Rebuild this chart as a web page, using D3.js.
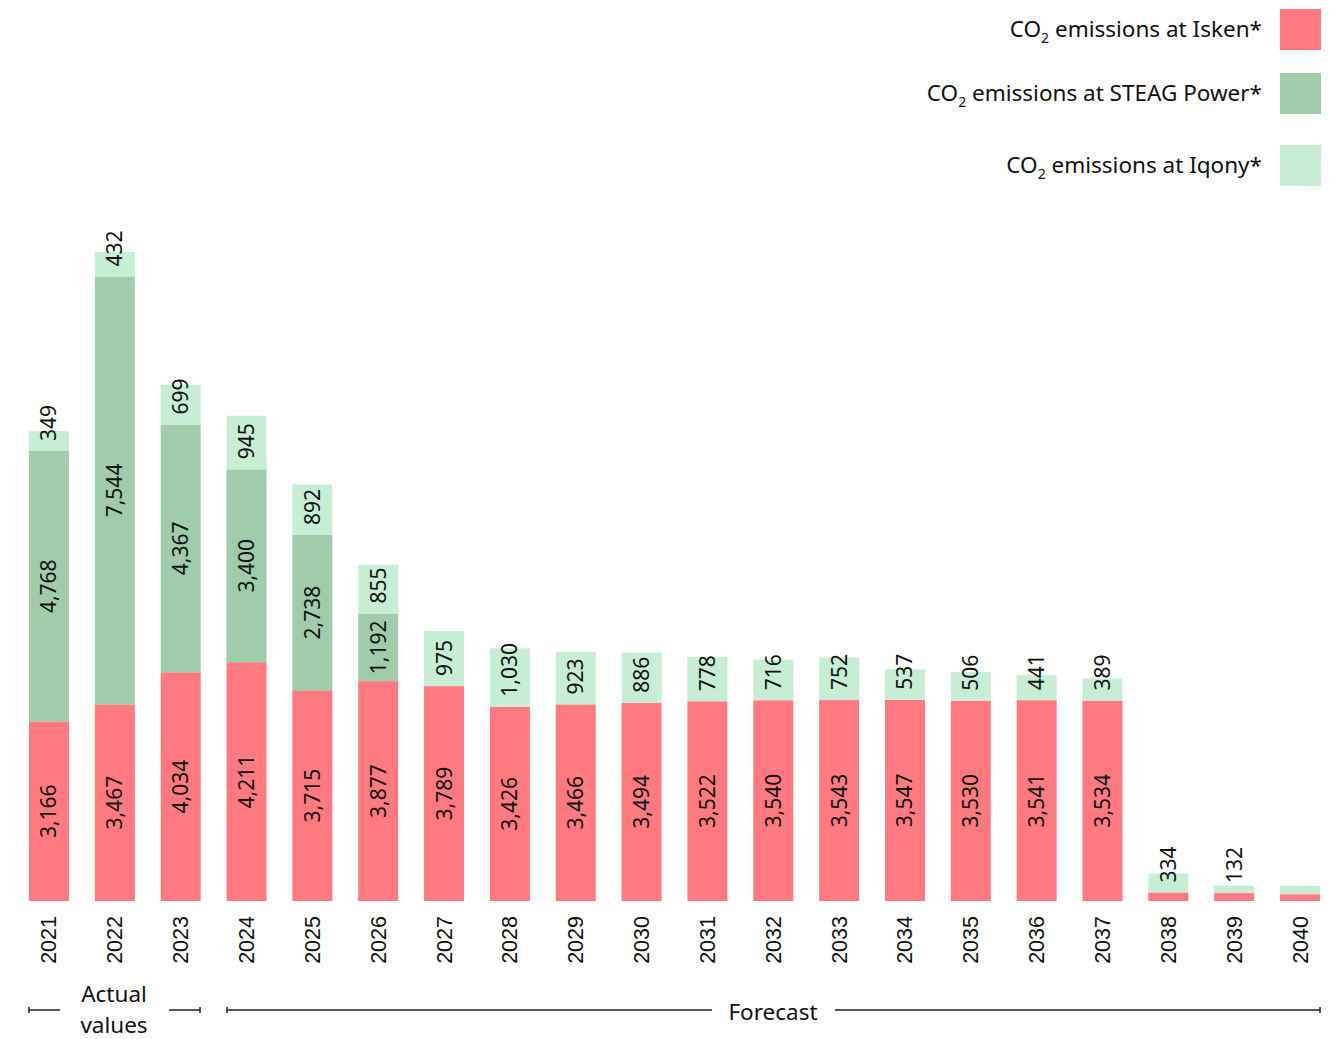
<!DOCTYPE html>
<html>
<head>
<meta charset="utf-8">
<script src="https://cdn.jsdelivr.net/npm/d3@7"></script>
<style>
  body { margin: 0; background: #fff; }
  svg { display: block; font-family: 'Noto Sans', sans-serif; }
</style>
</head>
<body>
<div id="chart"></div>
<script>
const years = ['2021', '2022', '2023', '2024', '2025', '2026', '2027', '2028', '2029', '2030',
  '2031', '2032', '2033', '2034', '2035', '2036', '2037', '2038', '2039', '2040'];
const isken = [3166, 3467, 4034, 4211, 3715, 3877, 3789, 3426, 3466, 3494,
  3522, 3540, 3543, 3547, 3530, 3541, 3534, 150, 140, 120];
const steag = [4768, 7544, 4367, 3400, 2738, 1192, 0, 0, 0, 0,
  0, 0, 0, 0, 0, 0, 0, 0, 0, 0];
const iqony = [349, 432, 699, 945, 892, 855, 975, 1030, 923, 886,
  778, 716, 752, 537, 506, 441, 389, 334, 132, 150];
const seriesNames = ['Isken', 'STEAG Power', 'Iqony'];
const seriesKeys = ['isken', 'steag', 'iqony'];
const colors = ['#ff7a80', '#a0ccab', '#c8edd5'];

const width = 1332;
const height = 1039;
const baseY = 901;
const fontSize = 21;

const rows = years.map((y, i) => ({ year: y, isken: isken[i], steag: steag[i], iqony: iqony[i] }));
const stacked = d3.stack().keys(seriesKeys)(rows);

const svg = d3.select('#chart').append('svg')
  .attr('width', width)
  .attr('height', height)
  .attr('viewBox', [0, 0, width, height]);

const x = d3.scaleBand()
  .domain(years)
  .range([29, 1320])
  .paddingInner(0.3925)
  .paddingOuter(0);

const maxTotal = d3.max(rows, d => d.isken + d.steag + d.iqony);
const y = d3.scaleLinear()
  .domain([0, maxTotal])
  .range([baseY, 252]);

// bars
const layers = svg.append('g')
  .selectAll('g')
  .data(stacked)
  .join('g')
  .attr('fill', (_, i) => colors[i]);

layers.selectAll('rect')
  .data(d => d)
  .join('rect')
  .attr('x', d => x(d.data.year))
  .attr('y', d => y(d[1]))
  .attr('width', x.bandwidth())
  .attr('height', d => Math.max(0, y(d[0]) - y(d[1])));

// value labels
const fmt = d3.format(',');
stacked.forEach((layer, li) => {
  const g = svg.append('g').attr('font-size', fontSize).attr('fill', '#111');
  layer.forEach(d => {
    const v = d[1] - d[0];
    if (v <= 0) return;
    const yr = d.data.year;
    if (li === 0 && v < 1000) return;
    if (li === 2 && yr === '2040') return;
    const cx = x(yr) + x.bandwidth() / 2;
    if (li === 2) {
      const by = y(d[0]) - 10;
      g.append('text')
        .attr('transform', `translate(${cx + 7.5},${by}) rotate(-90)`)
        .attr('text-anchor', 'start')
        .text(fmt(v));
    } else {
      const my = (y(d[0]) + y(d[1])) / 2;
      g.append('text')
        .attr('transform', `translate(${cx + 7.5},${my}) rotate(-90)`)
        .attr('text-anchor', 'middle')
        .text(fmt(v));
    }
  });
});

// x axis (years)
const axis = svg.append('g')
  .attr('transform', `translate(0,${baseY})`)
  .call(d3.axisBottom(x).tickSize(0).tickPadding(0));
axis.select('.domain').remove();
axis.selectAll('text')
  .attr('font-size', fontSize + 0.5)
  .attr('font-family', null)
  .attr('fill', '#111')
  .attr('text-anchor', 'end')
  .attr('dy', null)
  .attr('transform', 'translate(7.5,15) rotate(-90)');

// legend
const legend = svg.append('g');
const legendY = [29.5, 93.5, 165.5];
seriesNames.forEach((name, i) => {
  legend.append('rect')
    .attr('x', 1280)
    .attr('y', legendY[i] - 20.5)
    .attr('width', 41)
    .attr('height', 41)
    .attr('fill', colors[i]);
  const t = legend.append('text')
    .attr('x', 1262)
    .attr('y', legendY[i] + 7.5)
    .attr('text-anchor', 'end')
    .attr('font-size', 22.5)
    .attr('fill', '#111');
  t.append('tspan').text('CO');
  t.append('tspan').attr('font-size', 14).attr('dy', 6).text('2');
  t.append('tspan').attr('dy', -6).text(` emissions at ${name}*`);
});

// period annotations
const ann = svg.append('g').attr('stroke', '#222').attr('stroke-width', 1.5);
const lineY = 1010;
const segments = [[29, 60], [169, 200], [227, 712], [835, 1320]];
segments.forEach(([a, b]) => {
  ann.append('line').attr('x1', a).attr('x2', b).attr('y1', lineY).attr('y2', lineY);
});
[29, 200, 227, 1320].forEach(px => {
  ann.append('line').attr('x1', px).attr('x2', px).attr('y1', lineY - 3).attr('y2', lineY + 3);
});
const annText = svg.append('g').attr('font-size', 22.5).attr('fill', '#111').attr('text-anchor', 'middle');
annText.append('text').attr('x', 114).attr('y', 1002).text('Actual');
annText.append('text').attr('x', 114).attr('y', 1033).text('values');
annText.append('text').attr('x', 773).attr('y', 1020).text('Forecast');
</script>
</body>
</html>
